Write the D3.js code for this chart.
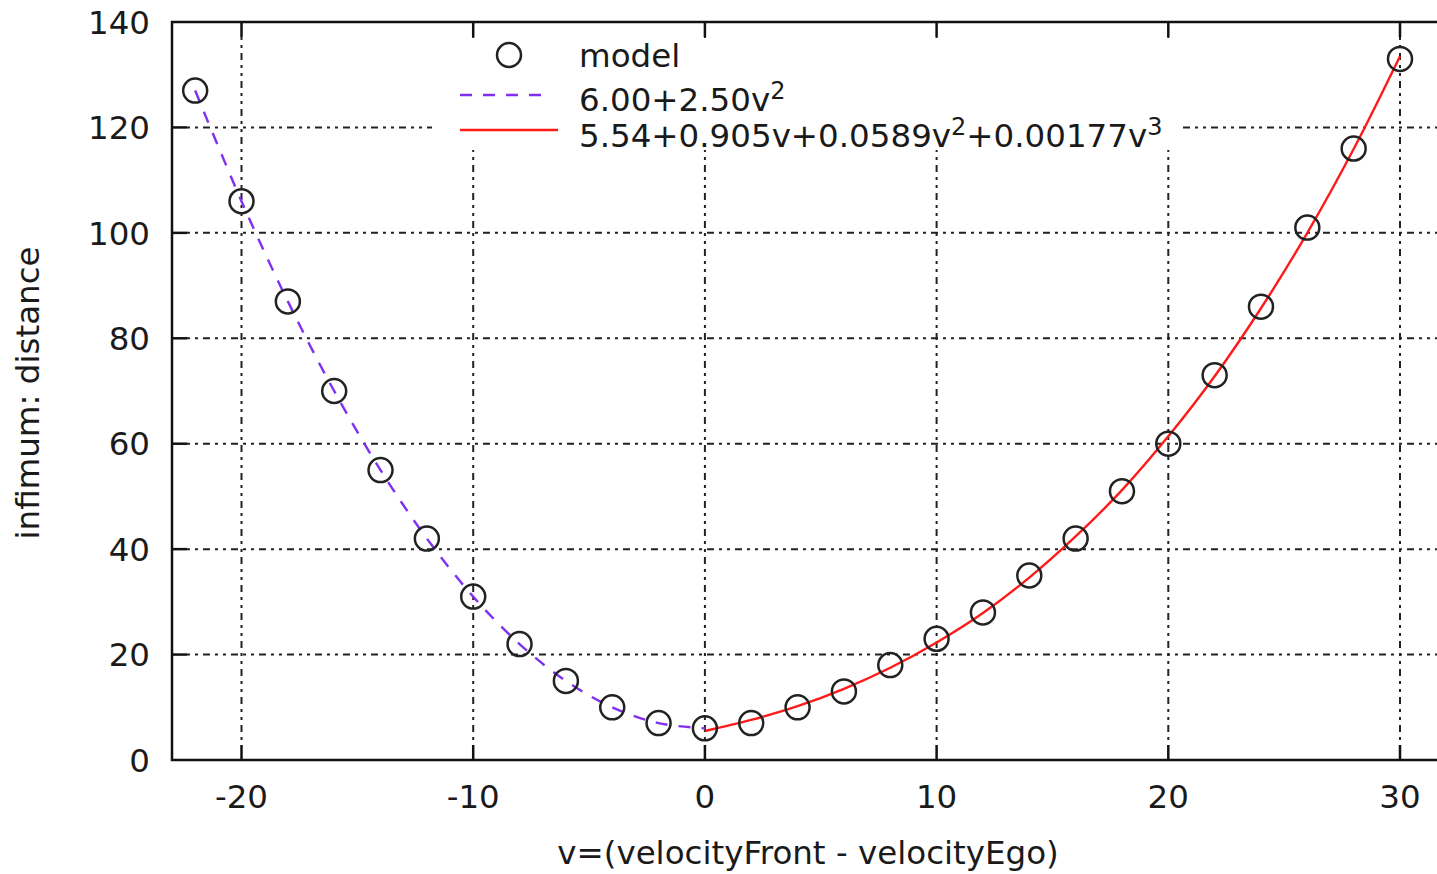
<!DOCTYPE html>
<html>
<head>
<meta charset="utf-8">
<script src="https://cdn.jsdelivr.net/npm/d3@7"></script>
<style>
  body { margin: 0; background: #fff; }
  text { font-family: "DejaVu Sans", sans-serif; fill: #1a1a1a; }
</style>
</head>
<body>
<div id="chart-container"></div>
<script>
// Size of the page
const containerWidth = 1437;
const containerHeight = 874;

// model points (v, distance)
const modelV = [-22, -20, -18, -16, -14, -12, -10, -8, -6, -4, -2, 0, 2, 4, 6, 8, 10, 12, 14, 16, 18, 20, 22, 24, 26, 28, 30];
const modelD = [127, 106, 87, 70, 55, 42, 31, 22, 15, 10, 7, 6, 7, 10, 13, 18, 23, 28, 35, 42, 51, 60, 73, 86, 101, 116, 133];

// fitted curves
const fitQuadV = [-22, -20, -18, -16, -14, -12, -10, -8, -6, -4, -2, 0];
const fitQuadD = [127, 106, 87, 70, 55, 42, 31, 22, 15, 10, 7, 6];
const fitCubicV = [0, 2, 4, 6, 8, 10, 12, 14, 16, 18, 20, 22, 24, 26, 28, 30];
const fitCubicD = [5.5, 7.6, 10.2, 13.5, 17.5, 22.3, 27.9, 34.6, 42.4, 51.2, 61.4, 72.8, 85.7, 100, 115.9, 133.5];

// ticks
const xTicks = [-20, -10, 0, 10, 20, 30];
const yTicks = [0, 20, 40, 60, 80, 100, 120, 140];

const svg = d3.select("#chart-container")
  .append("svg")
  .attr("width", containerWidth)
  .attr("height", containerHeight);

const plotLeft = 172, plotTop = 22, plotBottom = 760;
const x = d3.scaleLinear().domain([-23, 30]).range([plotLeft, 1400]);
const y = d3.scaleLinear().domain([0, 140]).range([plotBottom, plotTop]);
const plotRight = x(32);

const gridDash = "3,5,3,5,7,5";
const fontSize = "32.5px";
const supSize = "24px";

// grid
svg.append("g").selectAll("line")
  .data(yTicks.filter(d => d > 0 && d < 140))
  .enter().append("line")
  .attr("x1", plotLeft + 15).attr("x2", plotRight)
  .attr("y1", d => y(d)).attr("y2", d => y(d))
  .attr("stroke", "#222").attr("stroke-width", 2)
  .attr("stroke-dasharray", gridDash);

svg.append("g").selectAll("line")
  .data(xTicks)
  .enter().append("line")
  .attr("x1", d => x(d)).attr("x2", d => x(d))
  .attr("y1", plotTop + 15).attr("y2", plotBottom - 15)
  .attr("stroke", "#222").attr("stroke-width", 2)
  .attr("stroke-dasharray", gridDash);

// legend background hides the grid
svg.append("rect")
  .attr("x", 432).attr("y", 38)
  .attr("width", 746).attr("height", 112)
  .attr("fill", "#fff");

// border (right side is off the page)
svg.append("path")
  .attr("d", `M${plotRight},${plotTop}H${plotLeft}V${plotBottom}H${plotRight}`)
  .attr("fill", "none").attr("stroke", "#111").attr("stroke-width", 2.5);

// ticks, inward, mirrored on top
svg.append("g").selectAll("line")
  .data(yTicks.filter(d => d > 0 && d < 140))
  .enter().append("line")
  .attr("x1", plotLeft).attr("x2", plotLeft + 15)
  .attr("y1", d => y(d)).attr("y2", d => y(d))
  .attr("stroke", "#111").attr("stroke-width", 2.5);

xTicks.forEach(t => {
  svg.append("line")
    .attr("x1", x(t)).attr("x2", x(t))
    .attr("y1", plotBottom).attr("y2", plotBottom - 15)
    .attr("stroke", "#111").attr("stroke-width", 2.5);
  svg.append("line")
    .attr("x1", x(t)).attr("x2", x(t))
    .attr("y1", plotTop).attr("y2", plotTop + 15)
    .attr("stroke", "#111").attr("stroke-width", 2.5);
});

// tick labels
svg.append("g").selectAll("text")
  .data(yTicks)
  .enter().append("text")
  .attr("x", 150)
  .attr("y", d => y(d))
  .attr("dy", "0.36em")
  .attr("text-anchor", "end")
  .style("font-size", fontSize)
  .text(d => d);

svg.append("g").selectAll("text")
  .data(xTicks)
  .enter().append("text")
  .attr("x", d => x(d))
  .attr("y", 808)
  .attr("text-anchor", "middle")
  .style("font-size", fontSize)
  .text(d => d);

// axis titles
svg.append("text")
  .attr("x", 808).attr("y", 864)
  .attr("text-anchor", "middle")
  .style("font-size", fontSize)
  .text("v=(velocityFront - velocityEgo)");

svg.append("text")
  .attr("transform", "translate(39,393) rotate(-90)")
  .attr("text-anchor", "middle")
  .style("font-size", fontSize)
  .text("infimum: distance");

// fitted lines
const line = d3.line()
  .x(d => x(d[0]))
  .y(d => y(d[1]))
  .curve(d3.curveCatmullRom);

svg.append("path")
  .datum(fitQuadV.map((v, i) => [v, fitQuadD[i]]))
  .attr("d", line)
  .attr("fill", "none")
  .attr("stroke", "#8030f0")
  .attr("stroke-width", 2.4)
  .attr("stroke-dasharray", "12,11");

svg.append("path")
  .datum(fitCubicV.map((v, i) => [v, fitCubicD[i]]))
  .attr("d", line)
  .attr("fill", "none")
  .attr("stroke", "#ff1a1a")
  .attr("stroke-width", 2.4);

// model points
svg.append("g").selectAll("circle")
  .data(modelV.map((v, i) => [v, modelD[i]]))
  .enter().append("circle")
  .attr("cx", d => x(d[0]))
  .attr("cy", d => y(d[1]))
  .attr("r", 12)
  .attr("fill", "none")
  .attr("stroke", "#222")
  .attr("stroke-width", 2.5);

// legend
svg.append("circle")
  .attr("cx", 509).attr("cy", 55).attr("r", 12)
  .attr("fill", "none").attr("stroke", "#222").attr("stroke-width", 2.5);
svg.append("text").attr("x", 579).attr("y", 67).style("font-size", fontSize).text("model");

svg.append("line")
  .attr("x1", 460).attr("x2", 552).attr("y1", 95).attr("y2", 95)
  .attr("stroke", "#8030f0").attr("stroke-width", 2.4)
  .attr("stroke-dasharray", "12,11");
const l2 = svg.append("text").attr("x", 579).attr("y", 111).style("font-size", fontSize);
l2.append("tspan").text("6.00+2.50v");
l2.append("tspan").attr("dy", -12).style("font-size", supSize).text("2");

svg.append("line")
  .attr("x1", 460).attr("x2", 558).attr("y1", 130).attr("y2", 130)
  .attr("stroke", "#ff1a1a").attr("stroke-width", 2.4);
const l3 = svg.append("text").attr("x", 579).attr("y", 147).style("font-size", fontSize);
l3.append("tspan").text("5.54+0.905v+0.0589v");
l3.append("tspan").attr("dy", -12).style("font-size", supSize).text("2");
l3.append("tspan").attr("dy", 12).text("+0.00177v");
l3.append("tspan").attr("dy", -12).style("font-size", supSize).text("3");
</script>
</body>
</html>
